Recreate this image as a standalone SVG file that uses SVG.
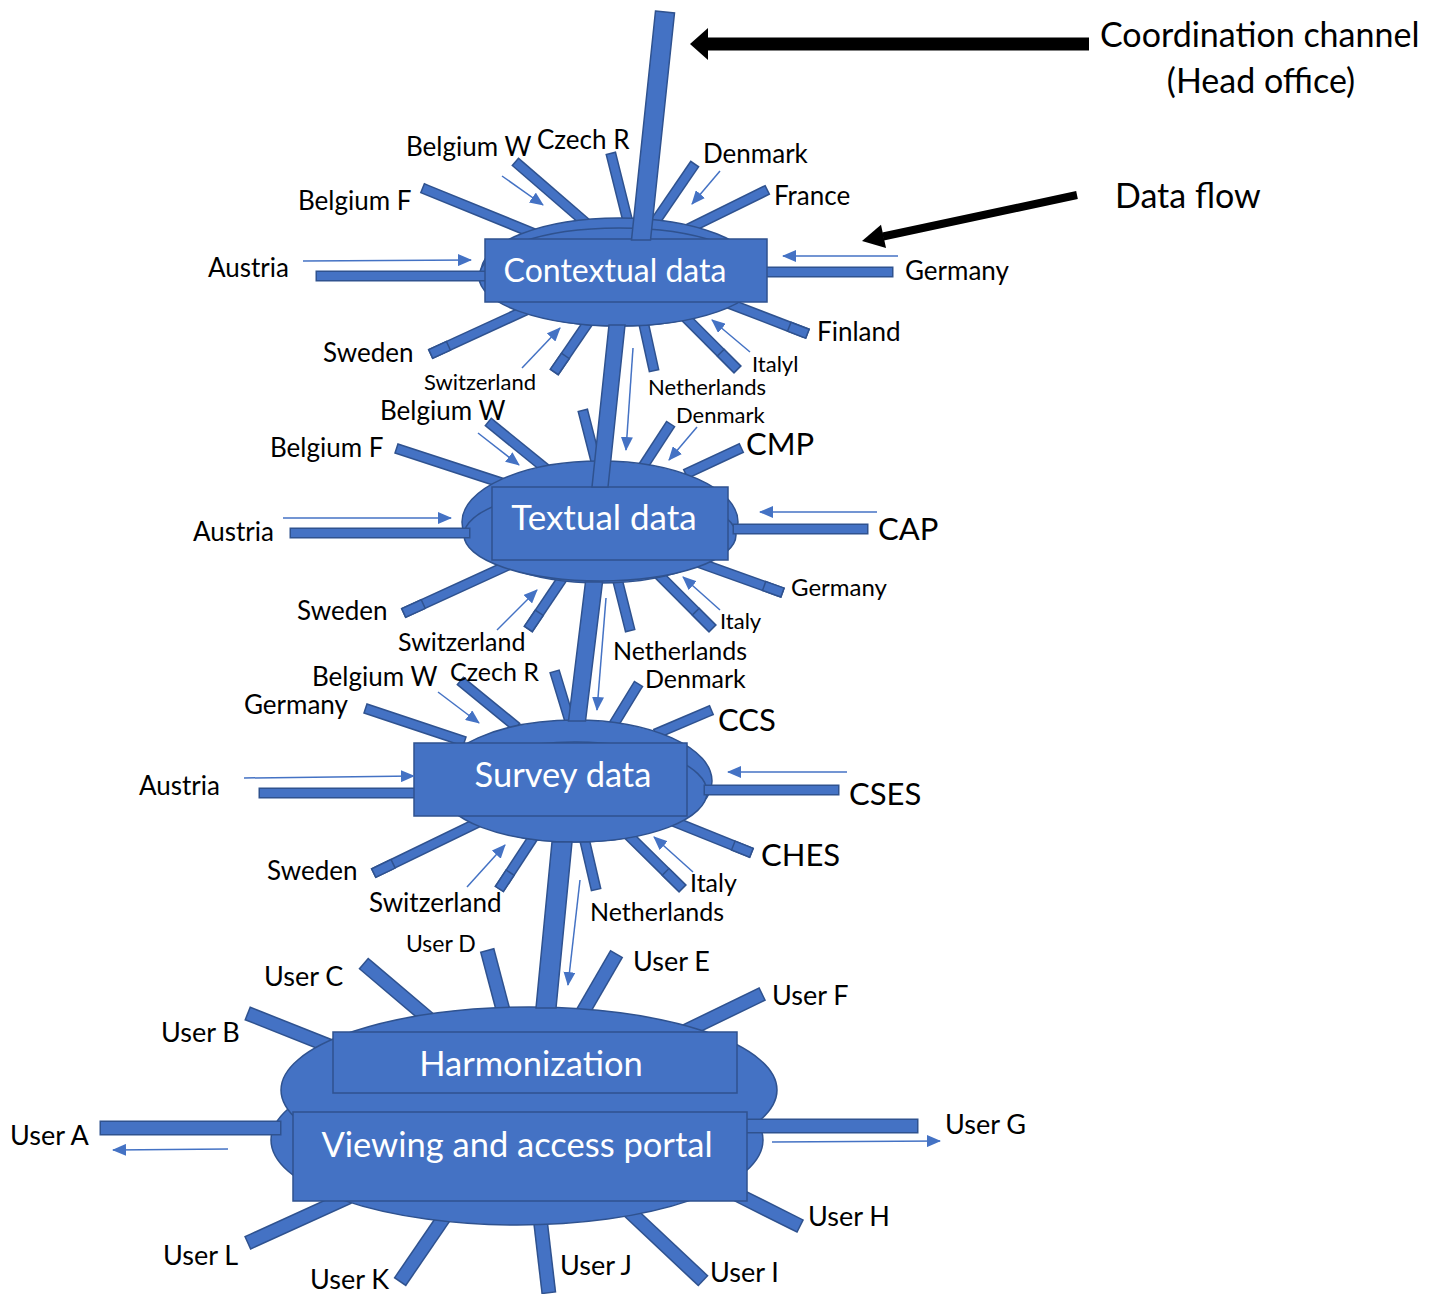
<svg xmlns="http://www.w3.org/2000/svg" xmlns:xlink="http://www.w3.org/1999/xlink" width="1431" height="1294" viewBox="0 0 1431 1294">
  <style>
    text { font-family: Lato, "Liberation Sans", sans-serif; fill: #000; }
    .lb { font-size: 26px; }
    .lbs { font-size: 25px; }
    .ls { font-size: 22px; }
    .lm { font-size: 24px; }
    .big { font-size: 31px; }
    .lu { font-size: 27px; }
    .lud { font-size: 23px; }
    .title { font-size: 34px; }
    .nt { font-size: 34.5px; fill: #fff; text-anchor: middle; }
    .shape { fill: #4472C4; stroke: #2F528F; stroke-width: 1.5; }
    .so { fill: none; stroke: #2F528F; stroke-width: 11; stroke-linecap: square; }
    .si { fill: none; stroke: #4472C4; stroke-width: 8; stroke-linecap: square; }
    .uo { fill: none; stroke: #2F528F; stroke-width: 15; stroke-linecap: square; }
    .ui { fill: none; stroke: #4472C4; stroke-width: 12; stroke-linecap: square; }
    .flow { fill: none; stroke: #4472C4; stroke-width: 1.5; marker-end: url(#head); }
  </style>
  <defs>
    <marker id="head" viewBox="0 0 14 12" refX="13" refY="6" markerWidth="14" markerHeight="12" markerUnits="userSpaceOnUse" orient="auto">
      <path d="M0,0 L14,6 L0,12 z" fill="#4472C4"/>
    </marker>

    <!-- contextual data: radial spokes (under the hub) -->
    <g id="sp-ctx">
      <line x1="427" y1="190" x2="540" y2="236"/>
      <line x1="519" y1="165" x2="585" y2="222"/>
      <line x1="612" y1="158" x2="628" y2="222"/>
      <line x1="692" y1="168" x2="655" y2="222"/>
      <line x1="763" y1="192" x2="690" y2="228"/>
      <line x1="803" y1="332" x2="720" y2="300"/>
      <line x1="734" y1="366" x2="676" y2="308"/>
      <line x1="653" y1="366" x2="642" y2="316"/>
      <line x1="557" y1="368" x2="594" y2="314"/>
      <line x1="435" y1="352" x2="537" y2="305"/>
    </g>
    <!-- end pieces that give the jointed look -->
    <g id="tip-ctx">
      <line x1="793.7" y1="328.4" x2="803" y2="332"/>
      <line x1="724.1" y1="356.1" x2="734" y2="366"/>
      <line x1="562.7" y1="359.8" x2="557" y2="368"/>
      <line x1="444.1" y1="347.8" x2="435" y2="352"/>
    </g>
    <g id="bar-ctx">
      <line x1="321" y1="276" x2="486" y2="276"/>
      <line x1="770" y1="272" x2="888" y2="272"/>
    </g>

    <!-- textual data -->
    <g id="sp-txt">
      <line x1="401" y1="450" x2="505" y2="484"/>
      <line x1="492" y1="425" x2="545" y2="468"/>
      <line x1="584" y1="415" x2="596" y2="462"/>
      <line x1="668" y1="428" x2="644" y2="465"/>
      <line x1="737" y1="450" x2="690" y2="472"/>
      <line x1="778" y1="591" x2="697" y2="562"/>
      <line x1="709" y1="625" x2="650" y2="566"/>
      <line x1="629" y1="626" x2="616" y2="574"/>
      <line x1="531" y1="625" x2="566" y2="573"/>
      <line x1="408" y1="611" x2="515" y2="562"/>
    </g>
    <g id="tip-txt">
      <line x1="768.6" y1="587.6" x2="778" y2="591"/>
      <line x1="699.1" y1="615.1" x2="709" y2="625"/>
      <line x1="536.6" y1="616.7" x2="531" y2="625"/>
      <line x1="418.9" y1="606" x2="408" y2="611"/>
    </g>
    <g id="bar-txt">
      <line x1="295" y1="533" x2="465" y2="533"/>
      <line x1="738" y1="529" x2="863" y2="529"/>
    </g>

    <!-- survey data -->
    <g id="sp-srv">
      <line x1="370" y1="710" x2="460" y2="740"/>
      <line x1="464" y1="684" x2="513" y2="724"/>
      <line x1="556" y1="676" x2="570" y2="722"/>
      <line x1="636" y1="688" x2="614" y2="724"/>
      <line x1="707" y1="712" x2="660" y2="732"/>
      <line x1="747" y1="851" x2="665" y2="818"/>
      <line x1="679" y1="885" x2="618" y2="825"/>
      <line x1="595" y1="885" x2="583" y2="833"/>
      <line x1="502" y1="885" x2="538" y2="830"/>
      <line x1="378" y1="871" x2="483" y2="820"/>
    </g>
    <g id="tip-srv">
      <line x1="737.7" y1="847.3" x2="747" y2="851"/>
      <line x1="669" y1="875.2" x2="679" y2="885"/>
      <line x1="507.5" y1="876.6" x2="502" y2="885"/>
      <line x1="388.8" y1="865.8" x2="378" y2="871"/>
    </g>
    <g id="bar-srv">
      <line x1="264" y1="793" x2="414" y2="793"/>
      <line x1="709" y1="790" x2="834" y2="790"/>
    </g>

    <!-- harmonization / portal: user spokes -->
    <g id="sp-usr">
      <line x1="489" y1="957" x2="503" y2="1010"/>
      <line x1="369" y1="968" x2="428" y2="1018"/>
      <line x1="254" y1="1016" x2="332" y2="1047"/>
      <line x1="613" y1="960" x2="584" y2="1010"/>
      <line x1="756" y1="997" x2="688" y2="1030"/>
      <line x1="794" y1="1223" x2="740" y2="1196"/>
      <line x1="698" y1="1276" x2="632" y2="1214"/>
      <line x1="548" y1="1286" x2="538" y2="1200"/>
      <line x1="404" y1="1276" x2="456" y2="1200"/>
      <line x1="254" y1="1240" x2="342" y2="1200"/>
    </g>
    <g id="bar-usr">
      <line x1="107" y1="1128" x2="274" y2="1128"/>
      <line x1="752" y1="1126" x2="911" y2="1126"/>
    </g>
  </defs>

  <rect width="1431" height="1294" fill="#fff"/>

  <!-- Harmonization and portal hub -->
  <g id="node-harmonization">
    <use href="#sp-usr" class="uo"/>
    <use href="#sp-usr" class="ui"/>
    <ellipse class="shape" cx="517" cy="1140" rx="246" ry="85"/>
    <ellipse class="shape" cx="529" cy="1090" rx="248" ry="83"/>
    <use href="#bar-usr" class="uo"/>
    <use href="#bar-usr" class="ui"/>
    <rect class="shape" x="333" y="1032" width="404" height="61"/>
    <text class="nt" x="531" y="1076">Harmonization</text>
    <rect class="shape" x="293" y="1112" width="454" height="89"/>
    <text class="nt" x="517" y="1157">Viewing and access portal</text>
    <g id="labels-users">
      <text class="lud" x="406" y="952">User D</text>
      <text class="lu" x="264" y="986">User C</text>
      <text class="lu" x="161" y="1042">User B</text>
      <text class="lu" x="633" y="971">User E</text>
      <text class="lu" x="772" y="1005">User F</text>
      <text class="lu" x="10" y="1145">User A</text>
      <text class="lu" x="945" y="1134">User G</text>
      <text class="lu" x="808" y="1226">User H</text>
      <text class="lu" x="710" y="1282">User I</text>
      <text class="lu" x="560" y="1275">User J</text>
      <text class="lu" x="310" y="1289">User K</text>
      <text class="lu" x="163" y="1265">User L</text>
    </g>
  </g>

  <!-- Survey data hub -->
  <g id="node-survey">
    <use href="#sp-srv" class="so"/>
    <use href="#sp-srv" class="si"/>
    <use href="#tip-srv" class="so"/>
    <use href="#tip-srv" class="si"/>
    <ellipse class="shape" cx="575" cy="781" rx="137" ry="61"/>
    <ellipse class="shape" cx="575" cy="792" rx="132" ry="50"/>
    <use href="#bar-srv" class="so"/>
    <use href="#bar-srv" class="si"/>
    <rect class="shape" x="414" y="743" width="273" height="73"/>
    <text class="nt" x="563" y="787">Survey data</text>
    <g id="labels-survey">
      <text class="lb" x="312" y="686">Belgium W</text>
      <text class="lbs" x="450" y="681">Czech R</text>
      <text class="lbs" x="645" y="688">Denmark</text>
      <text class="lb" x="244" y="714">Germany</text>
      <text class="big" x="718" y="731">CCS</text>
      <text class="lb" x="139" y="795">Austria</text>
      <text class="big" x="849" y="805">CSES</text>
      <text class="big" x="761" y="866">CHES</text>
      <text class="lb" x="267" y="880">Sweden</text>
      <text class="lb" x="369" y="912">Switzerland</text>
      <text class="lbs" x="690" y="892">Italy</text>
      <text class="lbs" x="590" y="921">Netherlands</text>
    </g>
  </g>

  <!-- Textual data hub -->
  <g id="node-textual">
    <use href="#sp-txt" class="so"/>
    <use href="#sp-txt" class="si"/>
    <use href="#tip-txt" class="so"/>
    <use href="#tip-txt" class="si"/>
    <ellipse class="shape" cx="600" cy="522" rx="138" ry="61"/>
    <ellipse class="shape" cx="600" cy="535" rx="136" ry="46"/>
    <use href="#bar-txt" class="so"/>
    <use href="#bar-txt" class="si"/>
    <rect class="shape" x="492" y="487" width="236" height="73"/>
    <text class="nt" x="604" y="530" style="font-size:35px">Textual data</text>
    <g id="labels-textual">
      <text class="lb" x="380" y="420">Belgium W</text>
      <text class="lb" x="270" y="457">Belgium F</text>
      <text class="ls" x="676" y="423">Denmark</text>
      <text class="big" x="746" y="455">CMP</text>
      <text class="lb" x="193" y="541">Austria</text>
      <text class="big" x="878" y="540">CAP</text>
      <text class="lm" x="791" y="596">Germany</text>
      <text class="lb" x="297" y="620">Sweden</text>
      <text class="lbs" x="398" y="651">Switzerland</text>
      <text class="ls" x="720" y="629">Italy</text>
      <text class="lbs" x="613" y="660">Netherlands</text>
    </g>
  </g>

  <!-- Contextual data hub -->
  <g id="node-contextual">
    <use href="#sp-ctx" class="so"/>
    <use href="#sp-ctx" class="si"/>
    <use href="#tip-ctx" class="so"/>
    <use href="#tip-ctx" class="si"/>
    <ellipse class="shape" cx="619" cy="272" rx="138" ry="54"/>
    <ellipse class="shape" cx="619" cy="277" rx="140" ry="49"/>
    <use href="#bar-ctx" class="so"/>
    <use href="#bar-ctx" class="si"/>
    <rect class="shape" x="485" y="239" width="282" height="63"/>
    <text class="nt" x="615" y="282" style="font-size:32px">Contextual data</text>
    <g id="labels-contextual">
      <text class="lb" x="406" y="156">Belgium W</text>
      <text class="lb" x="537" y="149">Czech R</text>
      <text class="lb" x="703" y="163">Denmark</text>
      <text class="lb" x="298" y="210">Belgium F</text>
      <text class="lb" x="774" y="205">France</text>
      <text class="lb" x="208" y="277">Austria</text>
      <text class="lb" x="905" y="280">Germany</text>
      <text class="lb" x="817" y="341">Finland</text>
      <text class="lb" x="323" y="362">Sweden</text>
      <text class="ls" x="424" y="390">Switzerland</text>
      <text class="ls" x="752" y="372">Italyl</text>
      <text class="ls" x="648" y="395">Netherlands</text>
    </g>
  </g>

  <!-- Connectors: channel trunks, flow arrows, legend arrows -->
  <g id="connectors">
    <polygon class="shape" points="655.5,11 674.5,13 650.5,240 631.5,240"/>
    <polygon class="shape" points="609,325 625,325 608,487 592,487"/>
    <polygon class="shape" points="585.5,582 602.5,582 585.5,721 568.5,721"/>
    <polygon class="shape" points="552,842 572,842 556,1008 536,1008"/>

    <line class="flow" x1="502" y1="176" x2="543" y2="205"/>
    <line class="flow" x1="720" y1="171" x2="692" y2="204"/>
    <line class="flow" x1="303" y1="261" x2="471" y2="260"/>
    <line class="flow" x1="898" y1="256" x2="783" y2="256"/>
    <line class="flow" x1="522" y1="368" x2="560" y2="328"/>
    <line class="flow" x1="750" y1="352" x2="712" y2="320"/>
    <line class="flow" x1="633" y1="348" x2="626" y2="450"/>

    <line class="flow" x1="478" y1="433" x2="519" y2="465"/>
    <line class="flow" x1="697" y1="427" x2="669" y2="460"/>
    <line class="flow" x1="283" y1="518" x2="451" y2="518"/>
    <line class="flow" x1="877" y1="512" x2="760" y2="512"/>
    <line class="flow" x1="720" y1="610" x2="683" y2="577"/>
    <line class="flow" x1="497" y1="630" x2="537" y2="590"/>
    <line class="flow" x1="606" y1="598" x2="597" y2="710"/>

    <line class="flow" x1="438" y1="692" x2="479" y2="723"/>
    <line class="flow" x1="244" y1="778" x2="414" y2="776"/>
    <line class="flow" x1="847" y1="772" x2="728" y2="772"/>
    <line class="flow" x1="693" y1="872" x2="654" y2="837"/>
    <line class="flow" x1="467" y1="887" x2="505" y2="845"/>
    <line class="flow" x1="580" y1="880" x2="568" y2="985"/>

    <line class="flow" x1="228" y1="1149" x2="113" y2="1150"/>
    <line class="flow" x1="772" y1="1142" x2="940" y2="1141"/>

    <line x1="1089" y1="44" x2="704" y2="44" stroke="#000" stroke-width="13"/>
    <polygon points="690,44 708,28 708,60" fill="#000"/>
    <line x1="1077" y1="195" x2="883" y2="236.5" stroke="#000" stroke-width="8"/>
    <polygon points="862,241 881,224.7 886,248.1" fill="#000"/>
  </g>

  <g id="legend">
    <text class="title" x="1100" y="47">Coordination channel</text>
    <text class="title" x="1261" y="93" text-anchor="middle">(Head office)</text>
    <text class="title" x="1115" y="208">Data flow</text>
  </g>
</svg>
